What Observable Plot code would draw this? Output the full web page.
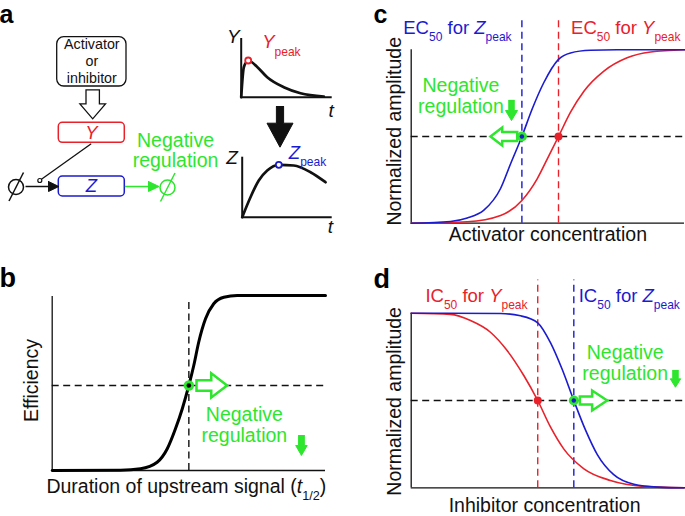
<!DOCTYPE html>
<html><head><meta charset="utf-8">
<script src="https://cdn.jsdelivr.net/npm/d3@7"></script>
<script src="https://cdn.jsdelivr.net/npm/@observablehq/plot@0.6"></script>
<style>
body{margin:0;background:#fff;}
#fig{position:relative;width:685px;height:516px;overflow:hidden;background:#fff;font-family:"Liberation Sans",Arial,Helvetica,sans-serif;}
#fig svg{position:absolute;overflow:visible;}
</style></head>
<body><div id="fig"></div>
<script>
// ---------------- data ----------------
// panel a insets (time course, normalized amplitude)
const yPeakTime = [0, 0.29, 0.77, 1.79, 2.86, 4.68, 6.52, 9.08];
const yPeakAmp  = [0, 0.51, 0.625, 0.51, 0.34, 0.17, 0.068, 0.012];
const zPeakTime = [0, 0.92, 1.84, 2.78, 4.07, 5.73, 7.59, 9.26];
const zPeakAmp  = [0, 0.333, 0.612, 0.778, 0.873, 0.862, 0.75, 0.583];
const yPeakIndex = 2, zPeakIndex = 4;
// panel b
const bDuration   = [0, 0.25, 0.323, 0.384, 0.421, 0.451, 0.476, 0.5, 0.518, 0.536, 0.561, 0.591, 0.628, 0.677, 1];
const bEfficiency = [0, 0.002, 0.01, 0.047, 0.124, 0.238, 0.353, 0.486, 0.6, 0.733, 0.867, 0.953, 0.99, 1, 1];
const bThreshold = 0.5, bHalf = 0.486;
// panel c
const cZconc = [0, 0.144, 0.205, 0.266, 0.327, 0.363, 0.405, 0.443, 0.485, 0.539, 0.583, 0.656, 0.754, 1];
const cZamp  = [0, 0.01, 0.03, 0.075, 0.2, 0.34, 0.5, 0.66, 0.81, 0.945, 0.982, 0.997, 1, 1];
const cYconc = [0, 0.205, 0.327, 0.405, 0.461, 0.504, 0.539, 0.583, 0.632, 0.705, 0.79, 0.876, 1];
const cYamp  = [0, 0.008, 0.044, 0.131, 0.256, 0.39, 0.5, 0.64, 0.761, 0.877, 0.954, 0.987, 1];
const cEC50Z = 0.405, cEC50Y = 0.539, cHalf = 0.5;
// panel d
const dZconc = [0, 0.327, 0.4, 0.463, 0.51, 0.552, 0.595, 0.638, 0.681, 0.741, 0.815, 0.9, 1];
const dZamp  = [1, 0.998, 0.985, 0.945, 0.83, 0.68, 0.5, 0.33, 0.19, 0.075, 0.02, 0.004, 0];
const dYconc = [0, 0.144, 0.217, 0.29, 0.351, 0.412, 0.463, 0.51, 0.558, 0.632, 0.729, 0.851, 1];
const dYamp  = [1, 0.993, 0.958, 0.891, 0.786, 0.643, 0.5, 0.347, 0.223, 0.109, 0.042, 0.008, 0];
const dIC50Y = 0.463, dIC50Z = 0.595, dHalf = 0.5;
// texts
const labels = {
  a: "a", b: "b", c: "c", d: "d",
  box: "Activator\nor\ninhibitor",
  neg: "Negative\nregulation",
  bx: "Duration of upstream signal (*t*_{1/2})", by: "Efficiency",
  cx: "Activator concentration", dx: "Inhibitor concentration", amp: "Normalized amplitude",
  ecZ: "EC_{50} for *Z*_{peak}", ecY: "EC_{50} for *Y*_{peak}",
  icY: "IC_{50} for *Y*_{peak}", icZ: "IC_{50} for *Z*_{peak}",
  yp: "*Y*_{peak}", zp: "*Z*_{peak}"
};

// ---------------- helpers ----------------
const FONT = '"Liberation Sans", Arial, Helvetica, sans-serif';
const RED = "#e8212b", BLUE = "#1b1bd0", GREEN = "#2de62d", INK = "#111";
const zip = (xs, ys) => xs.map((x, i) => ({x, y: ys[i]}));
const P = a => a.map(([x, y]) => ({x, y}));
function hArrow(xTail, xBase, xTip, yc, hs, hh) {
  return P([[xTail, yc-hs],[xBase, yc-hs],[xBase, yc-hh],[xTip, yc],[xBase, yc+hh],[xBase, yc+hs],[xTail, yc+hs],[xTail, yc-hs],[xBase, yc-hs]]);
}
function vArrow(xc, yTop, yBase, yTip, ws, wh) {
  return P([[xc-ws, yTop],[xc+ws, yTop],[xc+ws, yBase],[xc+wh, yBase],[xc, yTip],[xc-wh, yBase],[xc-ws, yBase],[xc-ws, yTop],[xc+ws, yTop]]);
}
const poly = (pts, o) => Plot.line(pts, {x: "x", y: "y", curve: "linear", strokeLinejoin: "miter", strokeMiterlimit: 10, ...o});
const txt = (x, y, text, o) => Plot.text([{x, y, text}], {x: "x", y: "y", text: "text", fontSize: 19.5, lineAnchor: "bottom", ...o});
const style = {fontFamily: FONT, background: "transparent", overflow: "visible", fontSize: "19.5px"};
const fig = document.getElementById("fig");
function place(svg, left, top) { svg.style.left = left + "px"; svg.style.top = top + "px"; fig.appendChild(svg); }
const dashed = {strokeDasharray: "7,4.5", strokeWidth: 1.4};

// ---------------- panel a : diagram ----------------
place(Plot.plot({
  width: 350, height: 240, marginLeft: 0, marginRight: 0, marginTop: 0, marginBottom: 0,
  x: {domain: [0, 350], range: [0, 350], axis: null},
  y: {domain: [0, 240], range: [0, 240], axis: null},
  style,
  marks: [
    Plot.rect([{x1: 56.7, x2: 126, y1: 36.7, y2: 86}], {x1: "x1", x2: "x2", y1: "y1", y2: "y2", rx: 7, fill: "white", stroke: INK, strokeWidth: 1.3}),
    Plot.rect([{x1: 58.3, x2: 124.3, y1: 122.3, y2: 142.3, c: RED}, {x1: 58.3, x2: 124.3, y1: 176, y2: 196, c: BLUE}],
      {x1: "x1", x2: "x2", y1: "y1", y2: "y2", rx: 4, fill: "white", stroke: d => d.c, strokeWidth: 1.5}),
    txt(91.3, 82.3, labels.box, {fontSize: 14.3, lineHeight: 1.17, textAnchor: "middle", fill: INK}),
    poly(vArrow(92.2, 89.3, 103.3, 118.3, 6.7, 12.8), {stroke: INK, strokeWidth: 1.3, fill: "white"}),
    poly(vArrow(279.5, 106, 122.7, 146.7, 3.6, 13), {stroke: INK, strokeWidth: 1, fill: INK}),
    txt(90.8, 138.3, "Y", {fontSize: 18.5, fontStyle: "italic", textAnchor: "middle", fill: RED}),
    txt(90.8, 191.7, "Z", {fontSize: 18.5, fontStyle: "italic", textAnchor: "middle", fill: BLUE}),
    Plot.link([{x1: 90.7, y1: 143.3, x2: 40.6, y2: 179}], {x1: "x1", y1: "y1", x2: "x2", y2: "y2", stroke: INK, strokeWidth: 1.3}),
    Plot.dot([{x: 39.3, y: 180}], {x: "x", y: "y", r: 2, stroke: INK, strokeWidth: 1.2, fill: "white"}),
    // null symbols
    Plot.dot([{x: 15.5, y: 186.5, c: INK}, {x: 167, y: 187, c: GREEN}], {x: "x", y: "y", r: 7.5, stroke: d => d.c, strokeWidth: 1.5, fill: "none"}),
    Plot.link([{x1: 8.5, y1: 200.5, x2: 23, y2: 172, c: INK}, {x1: 160, y1: 201, x2: 174.5, y2: 172.5, c: GREEN}],
      {x1: "x1", y1: "y1", x2: "x2", y2: "y2", stroke: d => d.c, strokeWidth: 1.5}),
    Plot.link([{x1: 25, y1: 186, x2: 50, y2: 186}], {x1: "x1", y1: "y1", x2: "x2", y2: "y2", stroke: INK, strokeWidth: 1.5}),
    poly(P([[48, 181],[58.3, 186],[48, 191],[48, 181]]), {stroke: INK, strokeWidth: 1, fill: INK}),
    Plot.link([{x1: 124.3, y1: 186, x2: 150, y2: 186}], {x1: "x1", y1: "y1", x2: "x2", y2: "y2", stroke: GREEN, strokeWidth: 1.5}),
    poly(P([[148, 181],[158.5, 186],[148, 191],[148, 181]]), {stroke: GREEN, strokeWidth: 1, fill: GREEN}),
    txt(175, 166.5, labels.neg, {lineHeight: 1.05, textAnchor: "middle", fill: GREEN}),
    txt(-1, 22.5, labels.a, {fontSize: 25, fontWeight: "bold", textAnchor: "start", fill: "#000"})
  ]
}), 0, 0);

// inset: Y time course
place(Plot.plot({
  width: 130, height: 105, marginLeft: 25.7, marginRight: 13.3, marginTop: 18, marginBottom: 28.3,
  x: {domain: [0, 10], axis: null}, y: {domain: [0, 1], axis: null}, style,
  marks: [
    Plot.ruleX([0], {y1: 0, y2: 1, stroke: INK, strokeWidth: 2}),
    Plot.ruleY([0], {x1: 0, x2: 10, stroke: INK, strokeWidth: 2}),
    Plot.line(zip(yPeakTime, yPeakAmp), {x: "x", y: "y", stroke: INK, strokeWidth: 2.7, curve: "monotone-x"}),
    Plot.dot([zip(yPeakTime, yPeakAmp)[yPeakIndex]], {x: "x", y: "y", r: 3, stroke: RED, strokeWidth: 1.8, fill: "white"}),
    txt(-0.85, 0.915, "Y", {fontSize: 19, fontStyle: "italic", textAnchor: "middle", fill: INK}),
    txt(9.87, -0.34, "t", {fontSize: 19, fontStyle: "italic", textAnchor: "middle", fill: INK}),
    txt(2.31, 0.83, labels.yp, {fontSize: 18.5, textAnchor: "start", fill: RED})
  ]
}), 215, 20);

// inset: Z time course
place(Plot.plot({
  width: 130, height: 100, marginLeft: 26.7, marginRight: 13.3, marginTop: 16.7, marginBottom: 23.3,
  x: {domain: [0, 10], axis: null}, y: {domain: [0, 1], axis: null}, style,
  marks: [
    Plot.ruleX([0], {y1: 0, y2: 1, stroke: INK, strokeWidth: 2}),
    Plot.ruleY([0], {x1: 0, x2: 10, stroke: INK, strokeWidth: 2}),
    Plot.line(zip(zPeakTime, zPeakAmp), {x: "x", y: "y", stroke: INK, strokeWidth: 2.7, curve: "monotone-x"}),
    Plot.dot([zip(zPeakTime, zPeakAmp)[zPeakIndex]], {x: "x", y: "y", r: 3, stroke: BLUE, strokeWidth: 1.8, fill: "white"}),
    txt(-1.13, 0.895, "Z", {fontSize: 19, fontStyle: "italic", textAnchor: "middle", fill: INK}),
    txt(9.8, -0.27, "t", {fontSize: 19, fontStyle: "italic", textAnchor: "middle", fill: INK}),
    txt(5.18, 0.973, labels.zp, {fontSize: 18.5, textAnchor: "start", fill: BLUE})
  ]
}), 215, 140);

// ---------------- panel b ----------------
place(Plot.plot({
  width: 350, height: 276, marginLeft: 51.7, marginRight: 25, marginTop: 55, marginBottom: 46,
  x: {domain: [0, 1], axis: null}, y: {domain: [0, 1], axis: null}, style,
  marks: [
    Plot.ruleX([0], {y1: 0, y2: 0.994, stroke: INK, strokeWidth: 1.3}),
    Plot.ruleY([0], {x1: 0, x2: 1, stroke: INK, strokeWidth: 1.3}),
    Plot.ruleY([bHalf], {x1: 0, x2: 1, stroke: INK, ...dashed}),
    Plot.ruleX([bThreshold], {y1: 0, y2: 0.981, stroke: INK, ...dashed}),
    Plot.line(zip(bDuration, bEfficiency), {x: "x", y: "y", stroke: "#000", strokeWidth: 3, curve: "monotone-x"}),
    poly(hArrow(0.528, 0.582, 0.64, bHalf, 0.03, 0.069), {stroke: GREEN, strokeWidth: 2.5, fill: "white"}),
    Plot.dot([{x: bThreshold, y: bHalf}], {x: "x", y: "y", r: 5.2, fill: GREEN}),
    Plot.dot([{x: bThreshold, y: bHalf}], {x: "x", y: "y", r: 2.3, fill: "#000"}),
    txt(0.703, 0.162, labels.neg, {lineHeight: 1.1, textAnchor: "middle", fill: GREEN}),
    poly(vArrow(0.912, 0.2, 0.143, 0.086, 0.0105, 0.021), {stroke: GREEN, strokeWidth: 1, fill: GREEN}),
    txt(-0.051, 0.514, labels.by, {rotate: -90, textAnchor: "middle", fill: INK}),
    txt(0.491, -0.126, labels.bx, {textAnchor: "middle", fill: INK}),
    txt(-0.193, 1.046, labels.b, {fontSize: 27, fontWeight: "bold", textAnchor: "start", fill: "#000"})
  ]
}), 0, 240);

// ---------------- panel c ----------------
place(Plot.plot({
  width: 335, height: 250, marginLeft: 60.7, marginRight: 1, marginTop: 49.3, marginBottom: 27.3,
  x: {domain: [0, 1], axis: null}, y: {domain: [0, 1], axis: null}, style,
  marks: [
    Plot.ruleX([0], {y1: 0, y2: 1, stroke: INK, strokeWidth: 1.3}),
    Plot.ruleY([0], {x1: 0, x2: 1, stroke: INK, strokeWidth: 1.3}),
    Plot.ruleY([cHalf], {x1: 0, x2: 1, stroke: INK, ...dashed}),
    Plot.ruleX([cEC50Z], {y1: 0, y2: 1.18, stroke: BLUE, ...dashed}),
    Plot.ruleX([cEC50Y], {y1: 0, y2: 1.18, stroke: RED, ...dashed}),
    Plot.line(zip(cYconc, cYamp), {x: "x", y: "y", stroke: RED, strokeWidth: 1.6, curve: "monotone-x"}),
    Plot.line(zip(cZconc, cZamp), {x: "x", y: "y", stroke: BLUE, strokeWidth: 1.6, curve: "monotone-x"}),
    poly(hArrow(0.388, 0.333, 0.29, cHalf, 0.026, 0.052), {stroke: GREEN, strokeWidth: 2.5, fill: "white"}),
    Plot.dot([{x: cEC50Y, y: cHalf}], {x: "x", y: "y", r: 4, fill: RED}),
    Plot.dot([{x: cEC50Z, y: cHalf}], {x: "x", y: "y", r: 5, fill: GREEN}),
    Plot.dot([{x: cEC50Z, y: cHalf}], {x: "x", y: "y", r: 2.2, fill: BLUE}),
    txt(0.182, 0.633, labels.neg, {lineHeight: 1.1, textAnchor: "middle", fill: GREEN}),
    poly(vArrow(0.367, 0.708, 0.65, 0.592, 0.01, 0.022), {stroke: GREEN, strokeWidth: 1, fill: GREEN}),
    txt(-0.029, 1.092, labels.ecZ, {fontSize: 18.5, textAnchor: "start", fill: BLUE}),
    txt(0.585, 1.092, labels.ecY, {fontSize: 18.5, textAnchor: "start", fill: RED}),
    txt(-0.039, 0.53, labels.amp, {rotate: -90, textAnchor: "middle", fill: INK}),
    txt(0.5, -0.1, labels.cx, {textAnchor: "middle", fill: INK}),
    txt(-0.138, 1.154, labels.c, {fontSize: 25, fontWeight: "bold", textAnchor: "start", fill: "#000"})
  ]
}), 350, 0);

// ---------------- panel d ----------------
place(Plot.plot({
  width: 335, height: 256, marginLeft: 60.7, marginRight: 1, marginTop: 52.7, marginBottom: 28.7,
  x: {domain: [0, 1], axis: null}, y: {domain: [0, 1], axis: null}, style,
  marks: [
    Plot.ruleX([0], {y1: 0, y2: 1, stroke: INK, strokeWidth: 1.3}),
    Plot.ruleY([0], {x1: 0, x2: 1, stroke: INK, strokeWidth: 1.3}),
    Plot.ruleY([dHalf], {x1: 0, x2: 1, stroke: INK, ...dashed}),
    Plot.ruleX([dIC50Y], {y1: 0, y2: 1.19, stroke: RED, ...dashed}),
    Plot.ruleX([dIC50Z], {y1: 0, y2: 1.19, stroke: BLUE, ...dashed}),
    Plot.line(zip(dYconc, dYamp), {x: "x", y: "y", stroke: RED, strokeWidth: 1.6, curve: "monotone-x"}),
    Plot.line(zip(dZconc, dZamp), {x: "x", y: "y", stroke: BLUE, strokeWidth: 1.6, curve: "monotone-x"}),
    poly(hArrow(0.617, 0.662, 0.717, dHalf, 0.023, 0.057), {stroke: GREEN, strokeWidth: 2.5, fill: "white"}),
    Plot.dot([{x: dIC50Y, y: dHalf}], {x: "x", y: "y", r: 4, fill: RED}),
    Plot.dot([{x: dIC50Z, y: dHalf}], {x: "x", y: "y", r: 5, fill: GREEN}),
    Plot.dot([{x: dIC50Z, y: dHalf}], {x: "x", y: "y", r: 2.2, fill: BLUE}),
    txt(0.783, 0.619, labels.neg, {lineHeight: 1.08, textAnchor: "middle", fill: GREEN}),
    poly(vArrow(0.967, 0.672, 0.624, 0.576, 0.01, 0.019), {stroke: GREEN, strokeWidth: 1, fill: GREEN}),
    txt(0.052, 1.063, labels.icY, {fontSize: 18.5, textAnchor: "start", fill: RED}),
    txt(0.613, 1.063, labels.icZ, {fontSize: 18.5, textAnchor: "start", fill: BLUE}),
    txt(-0.039, 0.495, labels.amp, {rotate: -90, textAnchor: "middle", fill: INK}),
    txt(0.488, -0.136, labels.dx, {textAnchor: "middle", fill: INK}),
    txt(-0.138, 1.147, labels.d, {fontSize: 27, fontWeight: "bold", textAnchor: "start", fill: "#000"})
  ]
}), 350, 260);

// ---------------- rich text: *italic* and _{subscript} ----------------
const NS = "http://www.w3.org/2000/svg";
for (const el of fig.querySelectorAll("text, tspan")) {
  if (el.querySelector("tspan")) continue;
  const s = el.textContent;
  if (!/\*|_\{/.test(s)) continue;
  const fs = parseFloat(getComputedStyle(el).fontSize) || 19.5;
  const parts = s.split(/(\*[^*]+\*|_\{[^}]*\})/).filter(p => p);
  el.textContent = "";
  let shifted = 0;
  for (const p of parts) {
    const ts = document.createElementNS(NS, "tspan");
    ts.style.whiteSpace = "pre";
    if (p.startsWith("_{")) {
      ts.textContent = p.slice(2, -1);
      ts.setAttribute("font-size", (fs * 0.65).toFixed(2));
      const sh = fs * 0.38;
      ts.setAttribute("dy", (sh - shifted).toFixed(2));
      shifted = sh;
    } else {
      const it = p.startsWith("*");
      ts.textContent = it ? p.slice(1, -1) : p;
      if (it) ts.setAttribute("font-style", "italic");
      if (shifted) { ts.setAttribute("dy", (-shifted).toFixed(2)); shifted = 0; }
    }
    el.appendChild(ts);
  }
}
</script>
</body></html>
